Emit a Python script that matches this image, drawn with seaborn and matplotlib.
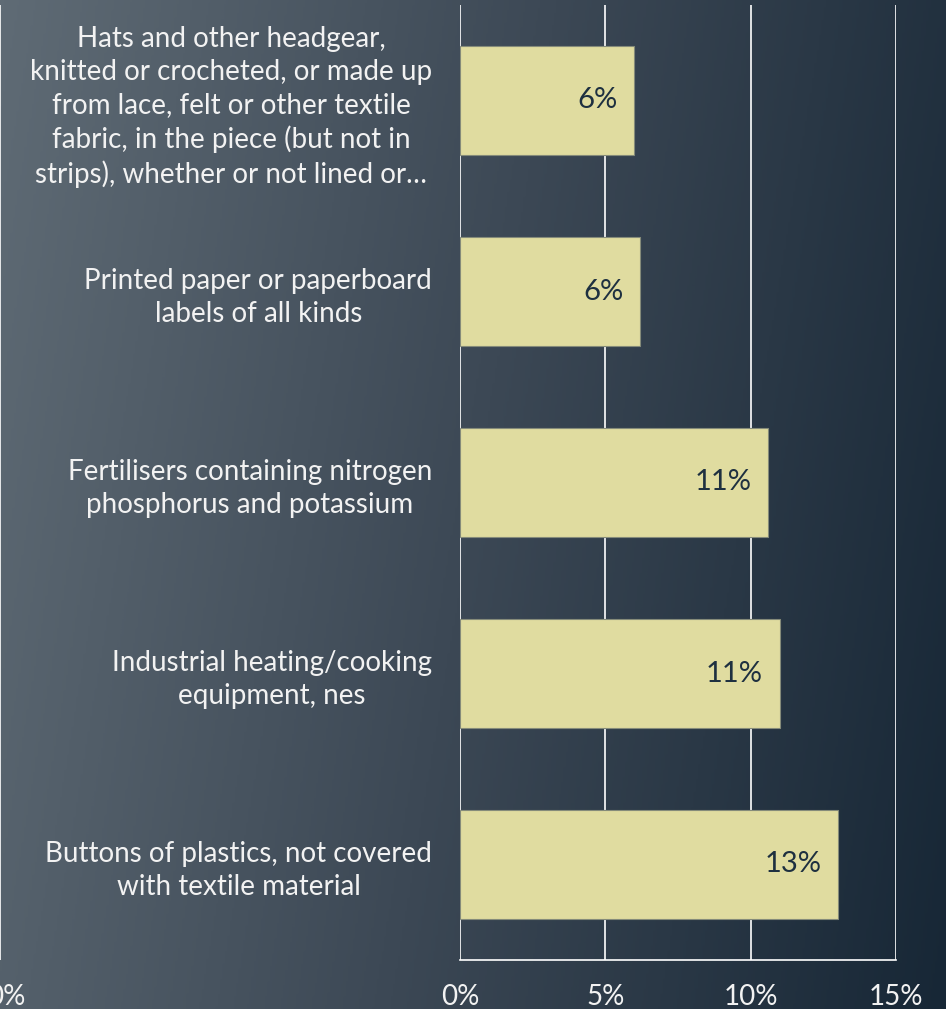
import numpy as np
import pandas as pd
import seaborn as sns
import matplotlib.pyplot as plt
from matplotlib.colors import LinearSegmentedColormap
from matplotlib.ticker import PercentFormatter
from matplotlib.transforms import ScaledTranslation

# data
products = [
    "Hats and other headgear,\nknitted or crocheted, or made up\nfrom lace, felt or other textile\nfabric, in the piece (but not in\nstrips), whether or not lined or…",
    "Printed paper or paperboard\nlabels of all kinds",
    "Fertilisers containing nitrogen\nphosphorus and potassium",
    "Industrial heating/cooking\nequipment, nes",
    "Buttons of plastics, not covered\nwith textile material",
]
shares = [6.0, 6.2, 10.6, 11.0, 13.0]
share_labels = ["6%", "6%", "11%", "11%", "13%"]
x_ticks = [0, 5, 10, 15]

df = pd.DataFrame({"product": products, "share": shares})

sns.set_style("white")
plt.rcParams["font.family"] = ["Lato", "DejaVu Sans"]

fig = plt.figure(figsize=(9.46, 10.09), dpi=100)

# gradient background
bg = fig.add_axes([0, 0, 1, 1], zorder=-1)
xx, yy = np.meshgrid(np.linspace(0, 1, 400), np.linspace(0, 1, 400))
grad = 0.85 * xx + 0.15 * yy
cmap = LinearSegmentedColormap.from_list("bg", ["#5f6b75", "#3c4855", "#172736"])
bg.imshow(grad, cmap=cmap, aspect="auto", extent=[0, 1, 0, 1], origin="upper")
bg.axis("off")

# cut-off panel on the left edge
left = fig.add_axes([-0.5, 49 / 1009, 0.5 + 1.5 / 946, 955 / 1009])
left.set_facecolor("none")
left.set_xlim(-15, 0)
left.set_xticks([0])
left.set_xticklabels(["0%"], color="#f2f2f2", fontsize=20)
left.tick_params(axis="x", length=0, pad=17)
for lbl in left.get_xticklabels():
    lbl.set_transform(lbl.get_transform() + ScaledTranslation(5 / 100, 0, fig.dpi_scale_trans))
left.set_yticks([])
for s in left.spines.values():
    s.set_visible(False)
left.axvline(0, color="white", lw=1.2)

ax = fig.add_axes([460 / 946, 49 / 1009, 436 / 946, 955 / 1009])
ax.set_facecolor("none")
sns.barplot(data=df, x="share", y="product", orient="h", color="#e0dca0",
            width=0.57, edgecolor="#858b7a", linewidth=0.8, saturation=1, ax=ax)
ax.set_xlim(0, 15)
ax.set_ylim(4.5, -0.5)
ax.set_xticks(x_ticks)
ax.xaxis.set_major_formatter(PercentFormatter(decimals=0))
ax.grid(axis="x", color="white", lw=1.2)
ax.set_axisbelow(True)
ax.set_xlabel("")
ax.set_ylabel("")
ax.tick_params(axis="x", colors="#f2f2f2", labelsize=20, length=0, pad=17)
ax.tick_params(axis="y", length=0, pad=20)
for lbl in ax.get_yticklabels():
    lbl.set_color("#f2f2f2")
    lbl.set_fontsize(20)
    lbl.set_multialignment("center")
    lbl.set_linespacing(1.33)
for side in ["top", "right", "left"]:
    ax.spines[side].set_visible(False)
ax.spines["bottom"].set_color("white")
ax.spines["bottom"].set_linewidth(1.2)

for bar, txt in zip(ax.patches, share_labels):
    ax.annotate(txt, (bar.get_x() + bar.get_width(), bar.get_y() + bar.get_height() / 2),
                xytext=(-12, 0), textcoords="offset points", ha="right", va="center",
                color="#1e3040", fontsize=21)

fig.savefig("out.png", dpi=100)
